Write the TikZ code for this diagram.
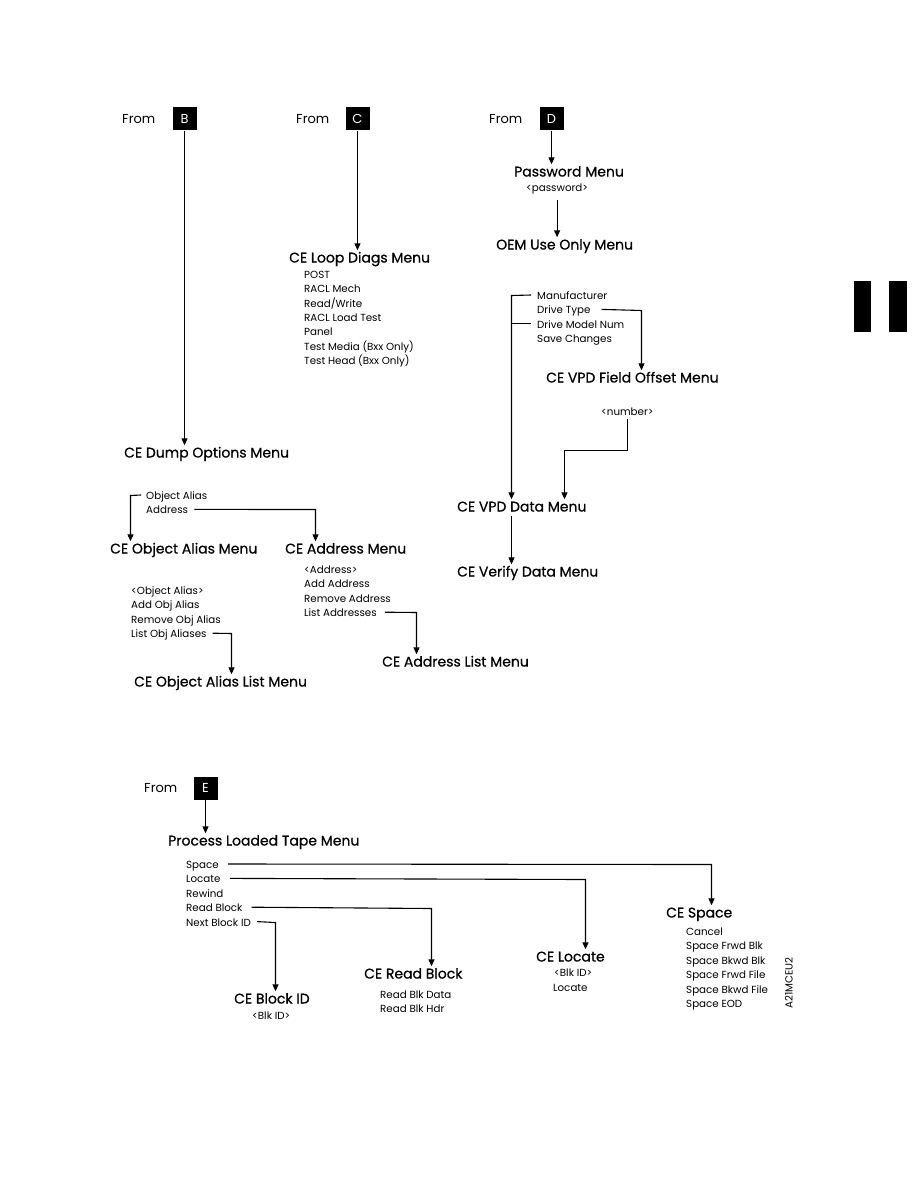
\documentclass[tikz,border=0pt]{standalone}
\usepackage{fontspec}
\setmainfont{Poppins}
\newfontfamily\headfont{Poppins}[FakeBold=0.7]
\usetikzlibrary{arrows.meta}

\begin{document}
\begin{tikzpicture}[
    x=1pt, y=-1pt,
    menu/.style={anchor=west, inner sep=0pt, text height=12pt, text depth=1pt,
        font=\headfont\fontsize{14}{16}\selectfont},
    item/.style={anchor=west, inner sep=0pt, text height=9pt, text depth=0pt,
        font=\fontsize{10.3}{12}\selectfont},
    from label/.style={anchor=west, inner sep=0pt, font=\fontsize{13}{15}\selectfont},
    tag/.style={fill=black, text=white, minimum width=24pt, minimum height=23pt,
        inner sep=0pt, font=\fontsize{13}{15}\selectfont},
    link/.style={draw=black, line width=1.1pt, -{Triangle[length=7pt, width=6pt]}},
    plain link/.style={draw=black, line width=1.1pt},
]
\useasboundingbox (0,0) rectangle (918,1188);

% --- Entry points ---
\foreach \n/\x/\y/\bx in {B/122/119/184.5, C/296/119/357.5, D/489/119/551.5, E/144/788/205.5} {
    \node[from label] (from\n) at (\x,\y) {From};
    \node[tag] (tag\n) at (\bx,\y) {\n};
}

% --- Menus ---
\node[menu] (dump)    at (124,452) {CE Dump Options Menu};
\node[menu] (loop)    at (289,257) {CE Loop Diags Menu};
\node[menu] (pwd)     at (514,171) {Password Menu};
\node[menu] (oem)     at (496,244) {OEM Use Only Menu};
\node[menu] (offs)    at (546,377) {CE VPD Field Offset Menu};
\node[menu] (vpdmenu) at (457,506) {CE VPD Data Menu};
\node[menu] (verify)  at (457,571) {CE Verify Data Menu};
\node[menu] (objm)    at (110,548) {CE Object Alias Menu};
\node[menu] (addrm)   at (285,548) {CE Address Menu};
\node[menu] (addrl)   at (382,661) {CE Address List Menu};
\node[menu] (objl)    at (134,681) {CE Object Alias List Menu};
\node[menu] (tape)    at (168,840) {Process Loaded Tape Menu};
\node[menu] (cesp)    at (666,912) {CE Space};
\node[menu] (celoc)   at (536,956) {CE Locate};
\node[menu] (cerb)    at (364,973) {CE Read Block};
\node[menu] (cebid)   at (234,998) {CE Block ID};

% --- Menu items ---
\node[item] (pass) at (526,187) {<password>};
\node[item] (num)  at (601,411) {<number>};
\foreach \i/\t in {0/POST, 1/RACL Mech, 2/{Read/Write}, 3/RACL Load Test, 4/Panel,
                   5/Test Media (Bxx Only), 6/Test Head (Bxx Only)} {
    \node[item] (loop\i) at (304,274+14.35*\i) {\t};
}
\foreach \i/\t in {0/Manufacturer, 1/Drive Type, 2/Drive Model Num, 3/Save Changes} {
    \node[item] (vpd\i) at (537,295+14.4*\i) {\t};
}
\foreach \i/\t in {0/Object Alias, 1/Address} {
    \node[item] (dump\i) at (146,495+14.4*\i) {\t};
}
\foreach \i/\t in {0/<Address>, 1/Add Address, 2/Remove Address, 3/List Addresses} {
    \node[item] (addr\i) at (304,569+14.4*\i) {\t};
}
\foreach \i/\t in {0/<Object Alias>, 1/Add Obj Alias, 2/Remove Obj Alias, 3/List Obj Aliases} {
    \node[item] (obj\i) at (131,590+14.4*\i) {\t};
}
\foreach \i/\t in {0/Space, 1/Locate, 2/Rewind, 3/Read Block, 4/Next Block ID} {
    \node[item] (tape\i) at (186,864+14.4*\i) {\t};
}
\foreach \i/\t in {0/Cancel, 1/Space Frwd Blk, 2/Space Bkwd Blk, 3/Space Frwd File,
                   4/Space Bkwd File, 5/Space EOD} {
    \node[item] (sp\i) at (686,931+14.4*\i) {\t};
}
\node[item] (loc0) at (554,972) {<Blk ID>};
\node[item] (loc1) at (553,987) {Locate};
\node[item] (rb0)  at (380,994) {Read Blk Data};
\node[item] (rb1)  at (380,1008) {Read Blk Hdr};
\node[item] (bid0) at (252,1015) {<Blk ID>};

% --- Bend points ---
\coordinate (vbus) at (511.5,295.5);
\coordinate (dtk)  at (641.5,310.5);
\coordinate (numk) at (564.5,450.5);
\coordinate (oak)  at (130.5,495.5);
\coordinate (adk)  at (315.5,509.5);
\coordinate (lak)  at (416.5,612.5);
\coordinate (lok)  at (231.5,633.5);
\coordinate (spk)  at (711.5,864.5);
\coordinate (lck)  at (585.5,879.5);
\coordinate (rbk)  at (431.5,908.5);
\coordinate (nbk)  at (275.5,922.5);

% --- Connectors ---
\draw[link] (tagB.south) -- (tagB.south |- dump.north);
\draw[link] (tagC.south) -- (tagC.south |- loop.north);
\draw[link] (tagD.south) -- (tagD.south |- pwd.north);
\draw[link] ([yshift=-8pt]pass.south) -- (pass.south |- oem.north);
\draw[link] ([xshift=-6pt]vpd0.west) -- (vbus) -- (vbus |- vpdmenu.north);
\draw[plain link] ([xshift=-6pt]vpd2.west) -- (vbus |- vpd2.west);
\draw[link] ([xshift=11pt]vpd1.east) -- (dtk) -- (dtk |- offs.north);
\draw[link] ([yshift=-3pt]num.south) |- (numk) -- (numk |- vpdmenu.north);
\draw[link] ([yshift=-3pt]vbus |- vpdmenu.south) -- (vbus |- verify.north);
\draw[link] ([xshift=-5pt]dump0.west) -- (oak) -- (oak |- objm.north);
\draw[link] ([xshift=6pt]dump1.east) -- (adk) -- (adk |- addrm.north);
\draw[link] ([xshift=8pt]addr3.east) -- (lak) -- (lak |- addrl.north);
\draw[link] ([xshift=6pt]obj3.east) -- (lok) -- (lok |- objl.north);
\draw[link] (tagE.south) -- (tagE.south |- tape.north);
\draw[link] ([xshift=9pt]tape0.east) -- (spk) -- (spk |- cesp.north);
\draw[link] ([xshift=9pt]tape1.east) -- (lck) -- (lck |- celoc.north);
\draw[link] ([xshift=9pt]tape3.east) -- (rbk) -- (rbk |- cerb.north);
\draw[link] ([xshift=6pt]tape4.east) -- (nbk) -- (nbk |- cebid.north);

% --- Figure code and tabs ---
\node[item, anchor=center, rotate=90] (figid) at (788,983) {A21MCEU2};
\fill (854,281) rectangle (871,332);
\fill (889,281) rectangle (907,332);

\end{tikzpicture}
\end{document}
